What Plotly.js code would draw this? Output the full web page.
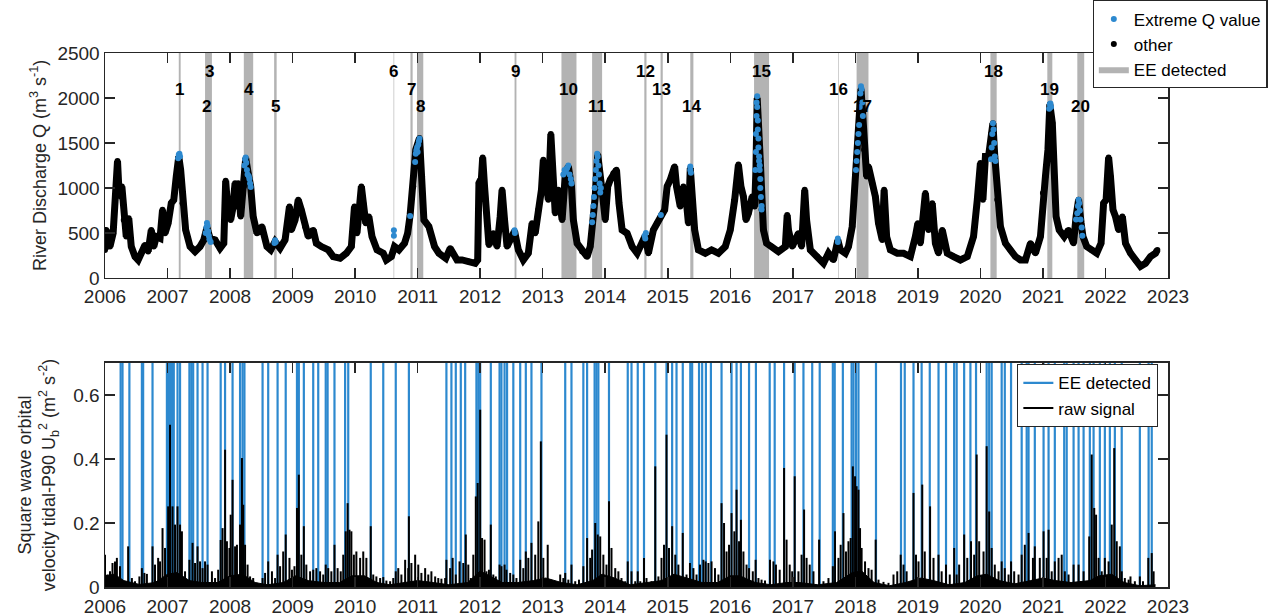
<!DOCTYPE html>
<html>
<head>
<meta charset="utf-8">
<script src="https://cdn.plot.ly/plotly-3.0.1.min.js"></script>
<style>
  html, body { margin: 0; padding: 0; background: #ffffff; }
  #chart { width: 1281px; height: 616px; }
</style>
</head>
<body>
<div id="chart"></div>
<script>
// ---- Axis ticks ----
const yearTicks = [2006,2007,2008,2009,2010,2011,2012,2013,2014,2015,2016,2017,2018,2019,2020,2021,2022,2023];
const qTicks = [0,500,1000,1500,2000,2500];
const ubTicks = [0,0.2,0.4,0.6];
const ubTickText = ['0','0.2','0.4','0.6'];

// ---- River discharge Q (m3/s), decimal year ----
const qYear = [2006.00,2006.02,2006.05,2006.08,2006.13,2006.16,2006.18,2006.20,2006.22,2006.25,2006.27,2006.30,2006.34,2006.38,2006.42,2006.48,2006.53,2006.58,2006.64,2006.69,2006.74,2006.78,2006.82,2006.88,2006.92,2006.96,
  2007.01,2007.06,2007.10,2007.14,2007.18,2007.21,2007.24,2007.29,2007.36,2007.44,2007.52,2007.58,2007.63,2007.68,2007.76,2007.84,2007.90,2007.93,2007.96,
  2008.01,2008.04,2008.08,2008.10,2008.13,2008.17,2008.22,2008.25,2008.29,2008.33,2008.37,2008.43,2008.51,2008.59,2008.65,2008.72,2008.80,2008.88,2008.95,2008.98,
  2009.04,2009.09,2009.14,2009.20,2009.25,2009.33,2009.38,2009.46,2009.57,2009.65,2009.76,2009.86,2009.94,2009.99,
  2010.03,2010.10,2010.13,2010.17,2010.22,2010.27,2010.35,2010.45,2010.50,2010.58,2010.63,2010.70,2010.79,2010.84,2010.88,2010.93,2010.97,
  2011.03,2011.07,2011.10,2011.18,2011.27,2011.34,2011.45,2011.52,2011.63,2011.71,2011.81,2011.92,2011.96,2011.98,
  2012.02,2012.04,2012.07,2012.11,2012.14,2012.21,2012.27,2012.32,2012.35,2012.39,2012.43,2012.48,2012.55,2012.61,2012.69,2012.77,2012.83,2012.88,2012.93,2012.98,
  2013.01,2013.05,2013.09,2013.13,2013.16,2013.20,2013.25,2013.31,2013.36,2013.41,2013.46,2013.49,2013.55,2013.63,2013.71,2013.76,2013.80,2013.84,2013.88,2013.92,2013.96,
  2014.00,2014.04,2014.08,2014.13,2014.18,2014.22,2014.27,2014.35,2014.43,2014.51,2014.59,2014.64,2014.69,2014.77,2014.83,2014.89,2014.95,2014.99,
  2015.04,2015.11,2015.14,2015.20,2015.25,2015.30,2015.33,2015.36,2015.39,2015.43,2015.49,2015.60,2015.70,2015.81,2015.92,
  2016.00,2016.07,2016.13,2016.17,2016.21,2016.25,2016.29,2016.35,2016.39,2016.41,2016.43,2016.48,2016.50,2016.53,2016.58,2016.66,2016.77,2016.88,2016.91,2016.93,2016.99,
  2017.09,2017.14,2017.19,2017.22,2017.28,2017.39,2017.49,2017.57,2017.65,2017.72,2017.76,2017.84,2017.89,2017.95,2017.98,
  2018.02,2018.05,2018.09,2018.12,2018.14,2018.18,2018.21,2018.27,2018.32,2018.37,2018.43,2018.46,2018.50,2018.56,2018.67,2018.77,2018.88,2018.96,
  2019.00,2019.04,2019.12,2019.17,2019.23,2019.28,2019.33,2019.39,2019.47,2019.57,2019.68,2019.79,2019.89,2019.95,
  2020.00,2020.04,2020.08,2020.13,2020.17,2020.20,2020.23,2020.27,2020.32,2020.40,2020.48,2020.56,2020.64,2020.72,2020.80,2020.88,2020.96,
  2021.00,2021.04,2021.08,2021.11,2021.15,2021.18,2021.21,2021.26,2021.34,2021.41,2021.49,2021.53,2021.57,2021.61,2021.64,2021.70,2021.78,2021.86,2021.93,2021.97,
  2022.01,2022.05,2022.08,2022.12,2022.16,2022.21,2022.27,2022.32,2022.40,2022.48,2022.56,2022.64,2022.72,2022.80,2022.83];
const qValue = [312,534,420,349,497,794,942,1300,1017,905,1017,645,460,664,349,237,200,275,367,293,534,349,460,441,757,497,
  608,831,868,1128,1350,1202,831,534,349,293,349,423,560,441,423,330,386,1080,794,
  645,757,1054,794,1054,683,1017,1330,1165,1017,683,497,571,349,312,404,330,423,794,534,
  645,868,757,571,460,534,386,349,312,237,219,275,349,794,
  497,1017,831,608,683,460,312,275,200,237,349,312,386,497,701,1017,1425,
  1555,1128,645,571,349,275,219,330,200,200,182,163,200,1054,
  1109,1340,1017,645,367,497,349,683,979,645,349,423,520,312,200,275,608,497,757,979,
  1313,1017,868,1600,1128,720,979,645,1128,1240,1017,645,386,293,237,349,608,905,1370,1054,905,
  645,1017,1091,1165,1202,831,534,497,349,275,386,470,275,534,608,690,757,1017,
  1091,1240,1017,794,1017,831,608,1220,794,534,312,275,312,275,349,
  534,868,1260,1017,905,645,720,905,794,1200,2000,1300,757,534,386,349,293,349,700,534,349,
  497,349,979,645,312,238,163,275,200,420,312,275,349,571,943,
  1351,1610,2100,1796,1425,1128,1239,1054,905,609,423,980,460,312,275,275,238,460,
  609,386,943,534,831,386,275,534,275,238,200,238,460,868,
  1277,868,1351,1351,1600,1720,1351,868,571,386,312,238,200,200,386,275,460,
  943,1128,1425,1930,1722,1128,683,534,460,534,386,683,870,609,460,349,312,275,386,831,
  868,1340,1128,757,683,534,683,386,275,200,130,163,238,275,312];

// ---- Extreme Q values ----
const extremeYear = [2007.17,2007.18,2007.19,2007.20,
  2007.61,2007.62,2007.63,2007.64,2007.65,2007.66,2007.67,2007.69,
  2008.23,2008.24,2008.25,2008.26,2008.27,2008.28,2008.30,2008.31,2008.32,2008.33,
  2008.71,2008.72,2008.73,
  2010.62,2010.62,
  2010.88,
  2010.96,2010.97,2010.98,2010.99,2011.00,2011.01,2011.02,2011.03,
  2012.55,2012.555,
  2013.33,2013.35,2013.37,2013.39,2013.41,2013.43,2013.45,2013.46,
  2013.79,2013.80,2013.81,2013.82,2013.83,2013.84,2013.85,2013.86,2013.87,2013.88,2013.89,2013.90,2013.91,2013.92,2013.93,
  2014.63,2014.64,2014.65,
  2014.89,
  2015.36,2015.36,2015.37,
  2016.40,2016.41,2016.41,2016.42,2016.42,2016.43,2016.43,2016.44,2016.44,2016.45,2016.45,2016.46,2016.46,2016.47,2016.47,2016.48,2016.48,2016.49,2016.50,2016.50,
  2017.72,2017.72,
  2018.01,2018.02,2018.03,2018.04,2018.05,2018.06,2018.07,2018.08,2018.09,2018.10,2018.11,2018.12,
  2020.17,2020.18,2020.19,2020.20,2020.21,2020.22,2020.23,2020.24,
  2021.10,2021.11,2021.12,2021.13,
  2021.53,2021.55,2021.56,2021.57,2021.58,2021.59,2021.60,2021.62,2021.63];
const extremeValue = [1330,1370,1380,1350,
  500,560,610,580,520,470,430,400,
  1250,1320,1340,1280,1200,1150,1130,1100,1050,1010,
  390,420,400,
  470,530,
  690,
  1290,1380,1420,1450,1400,1480,1520,1550,
  530,500,
  1150,1200,1180,1220,1250,1150,1100,1050,
  620,700,800,900,1000,1100,1200,1300,1380,1350,1250,1150,1050,950,1000,
  470,440,500,
  700,
  1200,1240,1170,
  1200,1400,1600,1800,1950,2020,1900,1750,1650,1550,1450,1350,1300,1250,1200,1100,1000,900,800,760,
  440,400,
  1200,1300,1400,1500,1600,1700,1900,2050,2130,2100,1950,1800,
  1320,1450,1600,1720,1650,1500,1350,1300,
  1880,1930,1940,1900,
  650,720,800,870,830,750,650,560,470];

// ---- Extreme events (EE detected), decimal year ----
const eventLabel = ['1','2','3','4','5','6','7','8','9','10','11','12','13','14','15','16','17','18','19','20'];
const eventStart = [2007.18,2007.60,2007.635,2008.22,2008.705,2010.615,2010.885,2010.99,2012.55,2013.30,2013.79,2014.625,2014.885,2015.36,2016.38,2017.725,2018.02,2020.16,2021.07,2021.55];
const eventEnd   = [2007.21,2007.655,2007.71,2008.37,2008.745,2010.625,2010.92,2011.09,2012.58,2013.54,2013.95,2014.66,2014.92,2015.41,2016.62,2017.735,2018.21,2020.26,2021.15,2021.66];

// ---- Lower panel: detected events in the wave orbital velocity signal ----
const detectYear = [2006.25,2006.28,2006.39,2006.59,2006.61,2006.76,2006.99,2007.01,2007.04,2007.07,2007.10,2007.16,2007.20,2007.35,2007.38,2007.41,2007.48,2007.56,2007.64,2007.85,2007.92,
  2008.04,2008.16,2008.20,2008.23,2008.52,2008.61,2008.76,2008.89,2009.07,2009.10,2009.18,2009.33,2009.41,2009.53,2009.56,2009.67,2009.84,2009.89,
  2010.25,2010.45,2010.65,2010.86,2011.46,2011.54,2011.61,2011.69,2011.76,2011.94,2011.97,2012.00,2012.17,2012.31,2012.34,2012.39,2012.43,2012.53,2012.64,2012.73,2012.82,2012.98,
  2013.36,2013.46,2013.65,2013.71,2013.83,2013.86,2013.89,2014.06,2014.36,2014.42,2014.52,2014.62,2014.80,2014.98,2015.07,2015.14,2015.24,2015.36,2015.39,2015.50,2015.55,2015.61,2015.69,2015.86,
  2016.02,2016.10,2016.17,2016.30,2016.41,2016.63,2016.71,2016.86,2017.03,2017.17,2017.31,2017.43,2017.64,2017.67,2017.80,2017.94,2017.97,2018.01,2018.05,2018.33,2018.73,2018.79,2018.93,
  2019.06,2019.19,2019.33,2019.45,2019.58,2019.62,2019.74,2019.84,2019.93,2020.10,2020.14,2020.18,2020.34,2020.39,2020.49,2020.66,2020.74,2020.77,2020.87,
  2021.01,2021.09,2021.19,2021.34,2021.38,2021.49,2021.57,2021.65,2021.75,2021.81,2021.91,2021.99,2022.07,2022.15,2022.26,2022.55,2022.69,2022.74];

// ---- Raw signal peaks, Ub^2 (m2/s2) ----
const signalYear = [2006.00,2006.04,2006.08,2006.12,2006.16,2006.19,2006.24,2006.37,2006.43,2006.48,2006.55,2006.59,2006.63,2006.67,2006.76,2006.80,2006.85,2006.88,2006.92,2006.96,
  2007.01,2007.04,2007.08,2007.12,2007.16,2007.20,2007.23,2007.28,2007.35,2007.40,2007.44,2007.48,2007.52,2007.56,2007.60,2007.64,2007.71,2007.76,2007.81,2007.85,2007.88,2007.92,2007.95,2007.99,
  2008.01,2008.04,2008.08,2008.11,2008.16,2008.19,2008.21,2008.24,2008.28,2008.32,2008.37,2008.43,2008.52,2008.56,2008.61,2008.67,2008.72,2008.76,2008.80,2008.85,2008.89,2008.95,2008.99,
  2009.03,2009.07,2009.10,2009.14,2009.18,2009.22,2009.28,2009.33,2009.38,2009.44,2009.49,2009.53,2009.57,2009.62,2009.67,2009.72,2009.77,2009.81,2009.85,2009.88,2009.91,2009.94,2009.98,
  2010.02,2010.08,2010.13,2010.18,2010.25,2010.29,2010.34,2010.40,2010.45,2010.50,2010.56,2010.61,2010.65,2010.69,2010.74,2010.80,2010.85,2010.86,2010.90,2010.96,
  2011.01,2011.06,2011.12,2011.17,2011.22,2011.28,2011.33,2011.38,2011.44,2011.46,2011.52,2011.56,2011.61,2011.67,2011.73,2011.77,2011.81,2011.85,2011.89,2011.93,2011.96,
  2012.00,2012.03,2012.07,2012.10,2012.14,2012.17,2012.21,2012.25,2012.31,2012.34,2012.39,2012.42,2012.48,2012.53,2012.58,2012.64,2012.69,2012.73,2012.77,2012.82,2012.88,2012.93,2012.97,
  2013.01,2013.08,2013.14,2013.20,2013.28,2013.33,2013.36,2013.41,2013.46,2013.52,2013.58,2013.65,2013.71,2013.76,2013.79,2013.84,2013.88,2013.92,2013.97,
  2014.02,2014.06,2014.10,2014.16,2014.21,2014.26,2014.32,2014.36,2014.42,2014.48,2014.52,2014.56,2014.62,2014.66,2014.74,2014.80,2014.85,2014.90,2014.94,2014.98,
  2015.02,2015.07,2015.12,2015.17,2015.24,2015.30,2015.355,2015.41,2015.46,2015.515,2015.57,2015.605,2015.65,2015.70,2015.755,2015.81,2015.86,2015.90,2015.94,2015.98,
  2016.02,2016.065,2016.10,2016.14,2016.17,2016.21,2016.26,2016.30,2016.36,2016.405,2016.45,2016.50,2016.555,2016.635,2016.69,2016.73,2016.79,2016.86,2016.90,2016.95,2016.99,
  2017.03,2017.09,2017.14,2017.18,2017.22,2017.27,2017.33,2017.42,2017.49,2017.57,2017.64,2017.675,2017.73,2017.765,2017.81,2017.85,2017.89,2017.925,2017.96,2017.995,
  2018.02,2018.05,2018.075,2018.10,2018.155,2018.21,2018.26,2018.325,2018.37,2018.45,2018.53,2018.61,2018.67,2018.725,2018.77,2018.82,2018.93,2018.97,
  2019.01,2019.07,2019.11,2019.195,2019.25,2019.33,2019.38,2019.45,2019.51,2019.58,2019.62,2019.66,2019.74,2019.79,2019.85,2019.90,2019.94,2019.98,
  2020.05,2020.10,2020.14,2020.18,2020.23,2020.29,2020.34,2020.39,2020.45,2020.49,2020.54,2020.61,2020.66,2020.71,2020.77,2020.84,2020.87,2020.95,
  2021.01,2021.06,2021.09,2021.14,2021.19,2021.25,2021.30,2021.35,2021.41,2021.49,2021.57,2021.65,2021.74,2021.78,2021.82,2021.85,2021.89,2021.94,2021.99,
  2022.05,2022.10,2022.14,2022.18,2022.23,2022.26,2022.31,2022.37,2022.40,2022.47,2022.55,2022.60,2022.685,2022.74,2022.77];
const signalValue = [0.101,0.039,0.049,0.075,0.080,0.091,0.065,0.127,0.028,0.018,0.033,0.059,0.044,0.041,0.127,0.070,0.091,0.080,0.184,0.122,
  0.252,0.507,0.252,0.195,0.252,0.195,0.174,0.049,0.085,0.138,0.075,0.127,0.080,0.059,0.080,0.070,0.049,0.028,0.054,0.147,0.184,0.429,0.143,0.122,
  0.226,0.335,0.127,0.132,0.195,0.403,0.257,0.132,0.070,0.033,0.028,0.013,0.028,0.044,0.080,0.049,0.028,0.101,0.065,0.111,0.164,0.091,0.054,
  0.065,0.247,0.351,0.101,0.190,0.070,0.049,0.054,0.059,0.049,0.039,0.070,0.059,0.049,0.132,0.059,0.049,0.101,0.174,0.262,0.179,0.174,0.101,
  0.111,0.091,0.111,0.091,0.190,0.039,0.033,0.028,0.031,0.020,0.018,0.028,0.049,0.059,0.039,0.085,0.059,0.221,0.075,0.101,
  0.070,0.044,0.059,0.039,0.049,0.033,0.028,0.026,0.028,0.085,0.059,0.091,0.039,0.080,0.075,0.164,0.070,0.028,0.101,0.283,0.325,
  0.554,0.153,0.148,0.049,0.054,0.195,0.039,0.033,0.070,0.065,0.070,0.054,0.044,0.039,0.028,0.085,0.059,0.111,0.091,0.138,0.101,0.205,0.455,
  0.091,0.132,0.018,0.007,0.039,0.028,0.044,0.023,0.070,0.018,0.023,0.065,0.153,0.091,0.117,0.200,0.164,0.158,0.101,
  0.070,0.268,0.122,0.059,0.049,0.028,0.018,0.080,0.049,0.018,0.049,0.018,0.091,0.028,0.018,0.377,0.033,0.091,0.132,0.476,
  0.122,0.190,0.101,0.070,0.169,0.039,0.075,0.059,0.039,0.070,0.085,0.080,0.075,0.080,0.059,0.039,0.262,0.200,0.111,0.132,
  0.231,0.174,0.304,0.143,0.210,0.111,0.070,0.059,0.049,0.085,0.028,0.023,0.020,0.085,0.080,0.070,0.054,0.372,0.148,0.070,0.049,
  0.346,0.049,0.101,0.242,0.091,0.070,0.049,0.148,0.018,0.028,0.065,0.174,0.091,0.132,0.231,0.111,0.143,0.153,0.377,0.346,
  0.315,0.304,0.184,0.122,0.080,0.059,0.054,0.148,0.023,0.016,0.013,0.039,0.049,0.101,0.070,0.049,0.294,0.101,
  0.080,0.320,0.111,0.252,0.091,0.101,0.049,0.070,0.039,0.122,0.039,0.070,0.164,0.091,0.143,0.101,0.414,0.143,
  0.111,0.440,0.236,0.122,0.070,0.049,0.080,0.059,0.039,0.080,0.049,0.039,0.101,0.132,0.169,0.091,0.127,0.091,
  0.174,0.091,0.179,0.049,0.080,0.091,0.101,0.049,0.039,0.070,0.070,0.049,0.158,0.414,0.247,0.226,0.091,0.049,0.091,
  0.080,0.195,0.434,0.143,0.127,0.049,0.028,0.023,0.033,0.018,0.033,0.018,0.091,0.106,0.049];

// ---- Raw signal background level between peaks ----
const baseYear = [2006.00,2006.15,2006.30,2006.55,2006.80,2007.00,2007.15,2007.35,2007.55,2007.80,2008.00,2008.20,2008.40,2008.60,2008.85,
  2009.05,2009.25,2009.50,2009.75,2009.95,2010.15,2010.35,2010.55,2010.80,2011.00,2011.25,2011.50,2011.80,2012.00,2012.15,2012.35,2012.60,2012.85,
  2013.05,2013.30,2013.55,2013.80,2013.95,2014.15,2014.40,2014.65,2014.90,2015.10,2015.30,2015.55,2015.80,2016.00,2016.15,2016.40,2016.65,2016.90,
  2017.10,2017.40,2017.70,2017.95,2018.10,2018.30,2018.55,2018.80,2019.05,2019.25,2019.50,2019.75,2019.95,2020.10,2020.30,2020.55,2020.80,
  2021.00,2021.20,2021.45,2021.75,2021.90,2022.10,2022.30,2022.55,2022.75,2022.80];
const baseValue = [0.035,0.04,0.02,0.008,0.014,0.04,0.045,0.02,0.014,0.014,0.035,0.04,0.014,0.007,0.014,
  0.035,0.02,0.014,0.014,0.035,0.035,0.014,0.007,0.014,0.02,0.014,0.007,0.014,0.05,0.035,0.014,0.014,0.02,
  0.028,0.014,0.007,0.02,0.04,0.028,0.007,0.014,0.02,0.04,0.028,0.014,0.014,0.035,0.035,0.014,0.007,0.014,
  0.014,0.007,0.014,0.045,0.05,0.014,0.004,0.014,0.028,0.02,0.007,0.014,0.035,0.04,0.02,0.01,0.02,
  0.028,0.02,0.014,0.02,0.035,0.04,0.014,0.004,0.007,0.007];

const FONT = 'Liberation Sans, Arial, Helvetica, sans-serif';
const INK = '#262626';
const BLUE = '#2d89cf';
const BAND = '#b3b3b3';

// Grey event windows as closed rectangles spanning the discharge axis
const qTop = qTicks[qTicks.length - 1];
const bandX = [], bandY = [];
eventStart.forEach((s, i) => {
  const e = eventEnd[i];
  bandX.push(s, e, e, s, s, null);
  bandY.push(0, 0, qTop, qTop, 0, null);
});

// Vertical detection lines across the whole lower axis
const ubTop = 0.7;
const detX = [], detY = [];
detectYear.forEach(t => { detX.push(t, t, null); detY.push(0, ubTop, null); });

// Raw signal peaks drawn as stems from zero
const sigX = [], sigY = [];
signalYear.forEach((t, i) => { sigX.push(t, t, null); sigY.push(0, signalValue[i], null); });

const traces = [
  { x: bandX, y: bandY, xaxis: 'x', yaxis: 'y', mode: 'lines', fill: 'toself',
    fillcolor: BAND, line: { width: 0, color: BAND }, name: 'EE detected',
    legend: 'legend', legendrank: 3, hoverinfo: 'skip' },
  { x: qYear, y: qValue, xaxis: 'x', yaxis: 'y', mode: 'lines',
    line: { color: '#000000', width: 7 }, showlegend: false, hoverinfo: 'skip' },
  { x: qYear, y: qValue, xaxis: 'x', yaxis: 'y', mode: 'markers',
    marker: { color: '#000000', size: 6 }, name: 'other', legend: 'legend', legendrank: 2 },
  { x: extremeYear, y: extremeValue, xaxis: 'x', yaxis: 'y', mode: 'markers',
    marker: { color: BLUE, size: 6 }, name: 'Extreme Q value', legend: 'legend', legendrank: 1 },

  { x: detX, y: detY, xaxis: 'x2', yaxis: 'y2', mode: 'lines',
    line: { color: BLUE, width: 2.2 }, name: 'EE detected', legend: 'legend2', legendrank: 1 },
  { x: baseYear, y: baseValue, xaxis: 'x2', yaxis: 'y2', mode: 'lines', fill: 'tozeroy',
    fillcolor: '#000000', line: { color: '#000000', width: 1 }, showlegend: false, legend: 'legend2' },
  { x: sigX, y: sigY, xaxis: 'x2', yaxis: 'y2', mode: 'lines',
    line: { color: '#000000', width: 2 }, name: 'raw signal', legend: 'legend2', legendrank: 2 }
];

// Event numbers, staggered on three rows
const rowLevels = [2100, 1905, 2300];
const annotations = eventLabel.map((lab, i) => ({
  x: (eventStart[i] + eventEnd[i]) / 2, y: rowLevels[i % 3], xref: 'x', yref: 'y',
  text: '<b>' + lab + '</b>', showarrow: false,
  font: { family: FONT, size: 17, color: '#000000' }
}));

const axisBase = {
  showline: true, linecolor: INK, linewidth: 1.5, mirror: 'ticks',
  ticks: 'inside', ticklen: 10, tickwidth: 1.5, tickcolor: INK,
  showgrid: false, zeroline: false,
  tickfont: { family: FONT, size: 19, color: INK }
};

const layout = {
  width: 1281, height: 616,
  margin: { l: 105, r: 113, t: 53, b: 29, autoexpand: false },
  paper_bgcolor: '#ffffff', plot_bgcolor: '#ffffff',
  font: { family: FONT, color: INK },
  showlegend: true,
  xaxis: Object.assign({}, axisBase, { anchor: 'y', range: [2006, 2023], tickvals: yearTicks, ticklabelstandoff: 1 }),
  yaxis: Object.assign({}, axisBase, { anchor: 'x', domain: [0.5787, 1], range: [0, 2500], tickvals: qTicks,
    title: { text: 'River Discharge Q (m<sup>3</sup> s<sup>-1</sup>)', font: { family: FONT, size: 18, color: INK }, standoff: 6 } }),
  xaxis2: Object.assign({}, axisBase, { anchor: 'y2', range: [2006, 2023], tickvals: yearTicks, ticklabelstandoff: 2 }),
  yaxis2: Object.assign({}, axisBase, { anchor: 'x2', domain: [0, 0.4195], range: [0, 0.7], tickvals: ubTicks, ticktext: ubTickText,
    title: { text: 'Square wave orbital<br>velocity tidal-P90 U<sub>b</sub><sup>2</sup> (m<sup>2</sup> s<sup>-2</sup>)', font: { family: FONT, size: 18, color: INK }, standoff: 13 } }),
  legend: { x: 0.929, y: 1.099, xanchor: 'left', yanchor: 'top', bgcolor: '#ffffff',
    bordercolor: INK, borderwidth: 1.3, font: { family: FONT, size: 17, color: '#000000' }, traceorder: 'normal' },
  legend2: { x: 0.858, y: 0.4176, xanchor: 'left', yanchor: 'top', bgcolor: '#ffffff',
    bordercolor: INK, borderwidth: 1.3, font: { family: FONT, size: 17, color: '#000000' }, traceorder: 'normal' },
  annotations: annotations
};

Plotly.newPlot('chart', traces, layout, { staticPlot: true, displayModeBar: false });
</script>
</body>
</html>
